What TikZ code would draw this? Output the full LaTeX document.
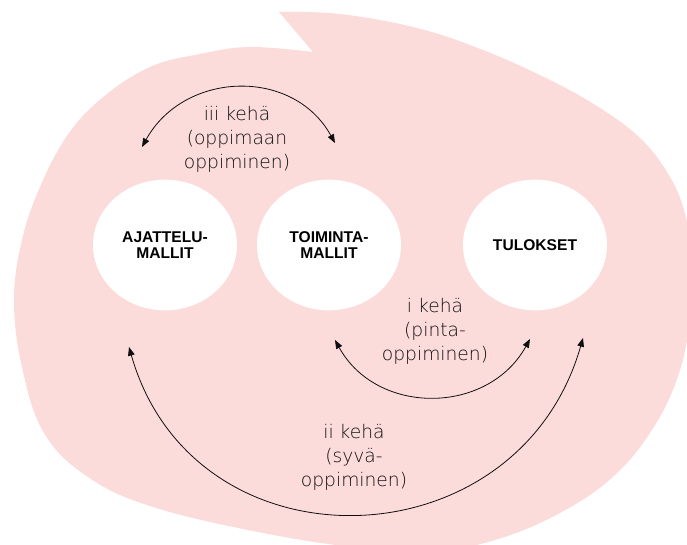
\documentclass[tikz,border=0pt]{standalone}
\usepackage{fontspec}
\setmainfont{Liberation Sans}
\newfontfamily\hand{DejaVu Sans ExtraLight}
\usetikzlibrary{arrows.meta,shapes.geometric}
\definecolor{blobpink}{RGB}{252,219,219}
\definecolor{inkgray}{RGB}{15,15,15}
\begin{document}
\begin{tikzpicture}[x=0.75pt,y=-0.75pt,
  mallbox/.style={ellipse, fill=white, minimum width=108pt, minimum height=98pt, inner sep=0pt,
    font=\fontsize{11.7}{11.8}\selectfont\bfseries, align=center},
  handtext/.style={font=\hand\fontsize{14}{18}\selectfont, align=center, text=inkgray},
  kehaarrow/.style={draw=inkgray, line width=0.6pt,
    {Triangle[length=6.5pt,width=5pt]}-{Triangle[length=6.5pt,width=5pt]}}
]
\useasboundingbox (0,0) rectangle (687,545);
% background blob
\fill[blobpink] plot[smooth, tension=0.65] coordinates {
  (279,12) (340,14) (417,28) (483,50) (550,80) (600,108) (640,138) (667,172)
  (684,210) (692,260) (691,310) (680,370) (655,425) (615,475) (560,513)
  (495,540) (430,552) (360,548) (263,533) (153,507) (88,477) (44,433)
  (22,367) (14,300) (22,240) (40,187) (67,136) (102,98) (150,67) (200,54)
  (250,47) (313,52)} -- cycle;
% circles
\node[mallbox] (ajattelu) at (165,245) {AJATTELU-\\MALLIT};
\node[mallbox] (toiminta) at (329,245) {TOIMINTA-\\MALLIT};
\node[mallbox] (tulokset) at (535,245) {TULOKSET};
% arc end points
\coordinate (iiiL) at (142,147);
\coordinate (iiiR) at (335,143);
\coordinate (iL) at (335,340);
\coordinate (iR) at (530,339);
\coordinate (iiL) at (129,347);
\coordinate (iiR) at (583,338);
% arcs
\draw[kehaarrow] (iiiL) .. controls (184,71) and (293,67) .. (iiiR);
\draw[kehaarrow] (iL) .. controls (377,416) and (488,415) .. (iR);
\draw[kehaarrow] (iiL) .. controls (194,575) and (518,566) .. (iiR);
% labels
\node[handtext] (iiitxt) at (237,139) {iii kehä\\(oppimaan\\oppiminen)};
\node[handtext] (itxt) at (435,331) {i kehä\\(pinta-\\oppiminen)};
\node[handtext] (iitxt) at (354,457) {ii kehä\\(syvä-\\oppiminen)};
\end{tikzpicture}
\end{document}
